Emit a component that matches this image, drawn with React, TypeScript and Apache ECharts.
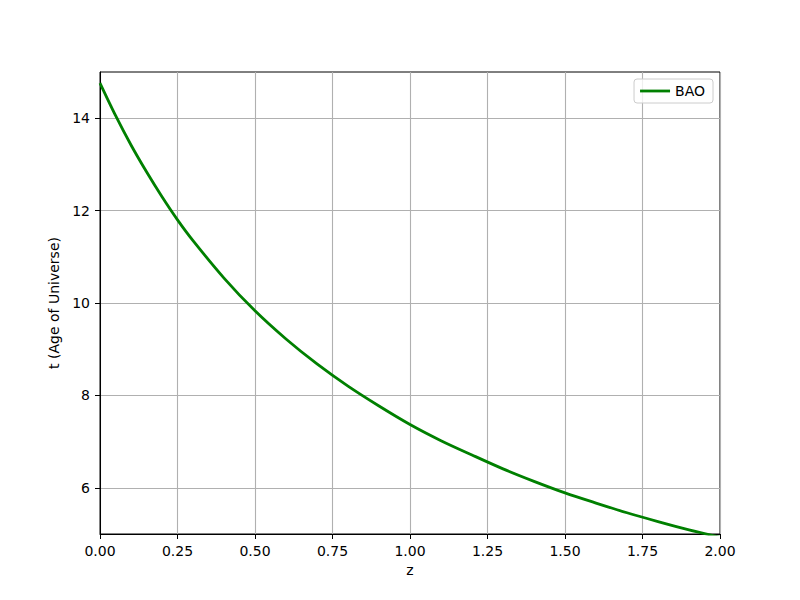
import React, { useEffect, useRef } from "react";
import * as echarts from "echarts";

const zValues = [0, 0.05, 0.1, 0.15, 0.2, 0.25, 0.3, 0.4, 0.5, 0.6, 0.7, 0.8, 0.9, 1.0, 1.1, 1.2, 1.3, 1.4, 1.5, 1.6, 1.7, 1.8, 1.9, 2.0];
const baoAge = [14.76, 14.06, 13.42, 12.84, 12.3, 11.8, 11.35, 10.54, 9.83, 9.22, 8.68, 8.2, 7.77, 7.37, 7.02, 6.71, 6.41, 6.14, 5.89, 5.67, 5.46, 5.27, 5.09, 4.93];
const yTicks = [6, 8, 10, 12, 14];
const seriesName = "BAO";
const xLabel = "z";
const yLabel = "t (Age of Universe)";

export default function App() {
  const ref = useRef<HTMLDivElement>(null);
  useEffect(() => {
    if (!ref.current) return;
    const chart = echarts.init(ref.current, null, { renderer: "svg" });
    const font = "DejaVu Sans";
    chart.setOption({
      animation: false,
      backgroundColor: "#ffffff",
      textStyle: { fontFamily: font },
      grid: {
        left: 100,
        top: 72,
        width: 620,
        height: 462,
        show: true,
        borderColor: "#000000",
        borderWidth: 1,
        backgroundColor: "#ffffff",
        containLabel: false,
      },
      legend: {
        show: true,
        right: 87,
        top: 79,
        orient: "vertical",
        padding: [5, 8, 5, 6],
        itemWidth: 30,
        itemHeight: 14,
        itemGap: 4,
        backgroundColor: "rgba(255,255,255,0.8)",
        borderColor: "#cccccc",
        borderWidth: 1,
        borderRadius: 3,
        textStyle: { fontFamily: font, fontSize: 14, color: "#000000" },
        data: [{ name: seriesName, icon: "path://M0,0 L30,0 L30,2.8 L0,2.8 Z", itemStyle: { color: "#008000" } }],
      },
      xAxis: {
        type: "value",
        min: 0,
        max: 2,
        interval: 0.25,
        name: xLabel,
        nameLocation: "middle",
        nameGap: 27,
        nameTextStyle: { fontFamily: font, fontSize: 14, color: "#000000" },
        axisLine: { show: true, lineStyle: { color: "#000000", width: 1 } },
        axisTick: { show: true, inside: false, length: 5, lineStyle: { color: "#000000", width: 1 } },
        axisLabel: {
          margin: 10,
          fontFamily: font,
          fontSize: 14,
          color: "#000000",
          formatter: (v: number) => v.toFixed(2),
        },
        splitLine: { show: true, lineStyle: { color: "#b0b0b0", width: 1.1 } },
      },
      yAxis: {
        type: "value",
        min: 5,
        max: 15,
        name: yLabel,
        nameLocation: "middle",
        nameGap: 28,
        nameRotate: 90,
        nameTextStyle: { fontFamily: font, fontSize: 14, color: "#000000" },
        axisLine: { show: true, lineStyle: { color: "#000000", width: 1 } },
        axisTick: { show: true, inside: false, length: 5, customValues: yTicks, lineStyle: { color: "#000000", width: 1 } },
        axisLabel: {
          margin: 10,
          fontFamily: font,
          fontSize: 14,
          color: "#000000",
          customValues: yTicks,
        },
        splitLine: { show: true, lineStyle: { color: "#b0b0b0", width: 1.1 } },
      },
      series: [
        {
          name: seriesName,
          type: "line",
          data: zValues.map((z, i) => [z, baoAge[i]]),
          symbol: "none",
          showSymbol: false,
          smooth: 0.3,
          clip: true,
          lineStyle: { color: "#008000", width: 2.8 },
          itemStyle: { color: "#008000" },
        },
      ],
    });
    return () => chart.dispose();
  }, []);
  return <div ref={ref} style={{ position: "fixed", left: 0, top: 0, width: 800, height: 600 }} />;
}
